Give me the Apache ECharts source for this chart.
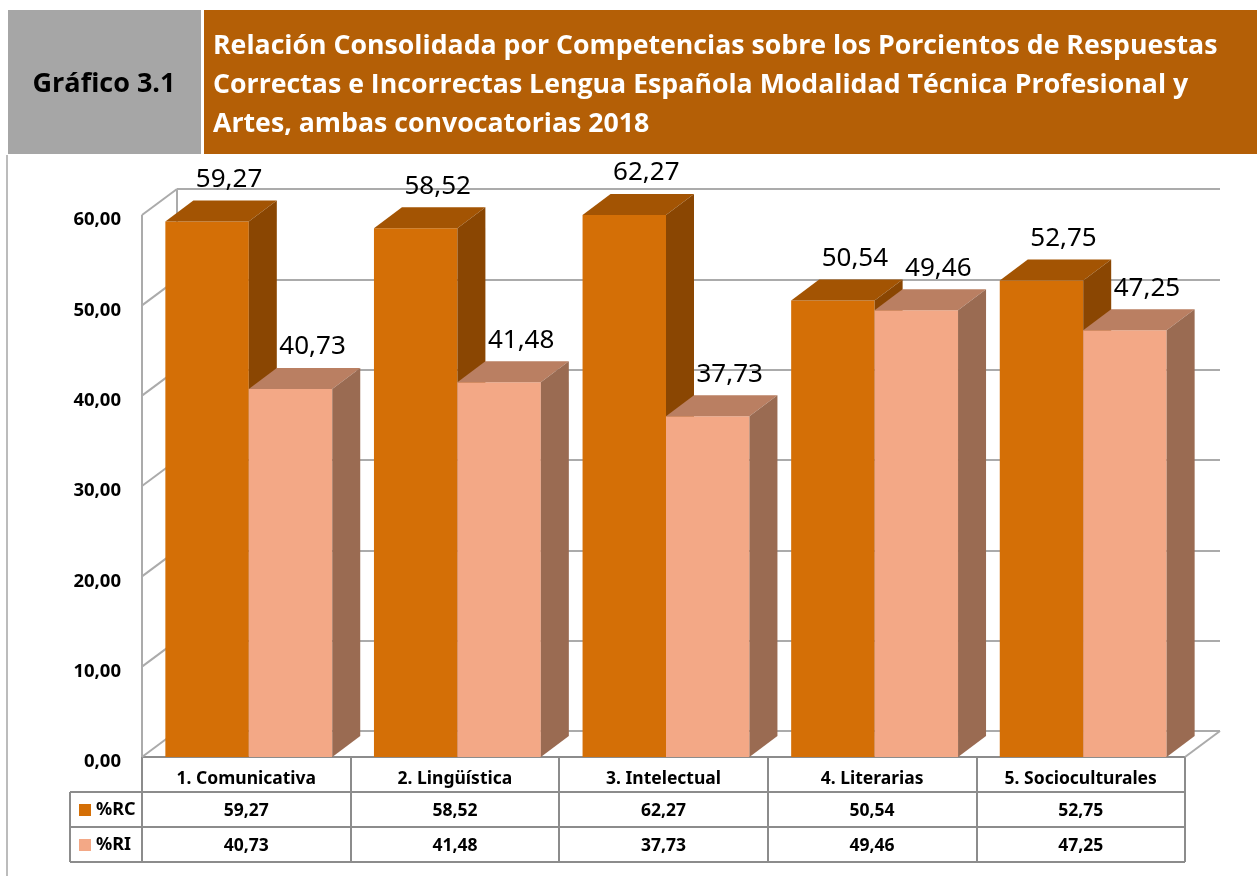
<!DOCTYPE html>
<html>
<head>
<meta charset="utf-8">
<script src="https://cdn.jsdelivr.net/npm/echarts@6/dist/echarts.min.js"></script>
<style>html,body{margin:0;padding:0;background:#fff;}#c{width:1257px;height:876px;}</style>
</head>
<body>
<div id="c"></div>
<script>
const chartNumber = 'Gráfico 3.1';
const titleLines = [
  'Relación Consolidada por Competencias sobre los Porcientos de Respuestas',
  'Correctas e Incorrectas Lengua Española Modalidad Técnica Profesional y',
  'Artes, ambas convocatorias 2018'
];
const categories = ['1. Comunicativa', '2. Lingüística', '3. Intelectual', '4. Literarias', '5. Socioculturales'];
const seriesNames = ['%RC', '%RI'];
const rcValues = [59.27, 58.52, 62.27, 50.54, 52.75];
const riValues = [40.73, 41.48, 37.73, 49.46, 47.25];
const yTicks = [0, 10, 20, 30, 40, 50, 60];
const Y_MIN = 0, Y_MAX = 60, Y_STEP = 10;

const fmt = v => v.toFixed(2).replace('.', ',');

const COLORS = {
  rc: { front: '#D46F06', top: '#A35403', side: '#8A4602' },
  ri: { front: '#F3A886', top: '#BA7F62', side: '#9A6B52' }
};
const DEPTH_BAR = [28, -21];
const DEPTH_WALL = [35, -26];
const GRID = { left: 142, right: 72, top: 215, bottom: 119 };
const GRIDLINE = '#ABABAB';
const TABLELINE = '#8C8C8C';
const FONT = '"Noto Sans", sans-serif';
const TITLE_FONT = '"Open Sans", sans-serif';

function barRenderer(slot, col) {
  return function (params, api) {
    const i = api.value(0);
    const v = api.value(1);
    const base = api.coord([i, Y_MIN]);
    const top = api.coord([i, Math.min(v, Y_MAX)]);
    const bw = api.size([1, 0])[0];
    const bandLeft = base[0] - bw / 2;
    const w = bw * 0.4;
    const x0 = bandLeft + bw * 0.112 + slot * w;
    const x1 = x0 + w;
    const yb = base[1], yt = top[1];
    const dx = DEPTH_BAR[0], dy = DEPTH_BAR[1];
    return {
      type: 'group',
      children: [
        { type: 'polygon', z2: 1 + slot, shape: { points: [[x0, yt], [x1, yt], [x1, yb], [x0, yb]] }, style: { fill: col.front } },
        { type: 'polygon', z2: 1 + slot, shape: { points: [[x0, yt], [x1, yt], [x1 + dx, yt + dy], [x0 + dx, yt + dy]] }, style: { fill: col.top } },
        { type: 'polygon', z2: 1 + slot, shape: { points: [[x1, yt], [x1 + dx, yt + dy], [x1 + dx, yb + dy], [x1, yb]] }, style: { fill: col.side } },
        { type: 'text', z2: 20, style: { text: fmt(v), x: (x0 + x1) / 2 + dx / 2 + 8, y: yt + dy - 21, align: 'center', verticalAlign: 'middle', fontSize: 26, fontFamily: FONT, fill: '#000' } }
      ]
    };
  };
}

function wallRenderer(params, api) {
  const t = api.value(1);
  const p = api.coord([0, t]);
  const cs = params.coordSys;
  const x = cs.x;
  const [dx, dy] = DEPTH_WALL;
  const ls = { stroke: GRIDLINE, lineWidth: 2 };
  const children = [
    { type: 'line', shape: { x1: x, y1: p[1], x2: x + dx, y2: p[1] + dy }, style: ls }
  ];
  if (t === Y_MIN) {
    const xr = cs.x + cs.width;
    children.push({ type: 'line', shape: { x1: xr, y1: p[1], x2: xr + dx, y2: p[1] + dy }, style: ls });
  }
  if (t === Y_MAX) {
    const y0 = api.coord([0, Y_MIN])[1];
    children.push({ type: 'line', shape: { x1: x, y1: p[1], x2: x, y2: y0 }, style: ls });
    children.push({ type: 'line', shape: { x1: x + dx, y1: p[1] + dy, x2: x + dx, y2: y0 + dy }, style: ls });
  }
  return { type: 'group', children };
}

const chart = echarts.init(document.getElementById('c'), null, { renderer: 'canvas' });

const tableRows = [792, 827, 862];
const graphics = [
  { type: 'rect', shape: { x: 8, y: 10, width: 193, height: 144 }, style: { fill: '#A6A6A6' } },
  { type: 'rect', shape: { x: 204, y: 10, width: 1053, height: 144 }, style: { fill: '#B45F06' } },
  { type: 'text', style: { text: chartNumber, x: 104, y: 84, align: 'center', verticalAlign: 'middle', fontSize: 27, fontWeight: 'bold', fontFamily: TITLE_FONT, fill: '#000' } },
  { type: 'text', style: { text: titleLines.join('\n'), x: 213, y: 85, align: 'left', verticalAlign: 'middle', lineHeight: 39, fontSize: 26.7, fontWeight: 'bold', fontFamily: TITLE_FONT, fill: '#fff' } },
  { type: 'line', shape: { x1: 7, y1: 155, x2: 7, y2: 876 }, style: { stroke: '#A6A6A6', lineWidth: 1.5 } },
  { type: 'line', shape: { x1: 70, y1: 792, x2: 70, y2: 862 }, style: { stroke: TABLELINE, lineWidth: 2 } }
];
tableRows.forEach(y => graphics.push({ type: 'line', shape: { x1: 70, y1: y, x2: 1185, y2: y }, style: { stroke: TABLELINE, lineWidth: 2 } }));

const option = {
  animation: false,
  backgroundColor: '#fff',
  textStyle: { fontFamily: FONT },
  grid: [
    { left: GRID.left, right: GRID.right, top: GRID.top, bottom: GRID.bottom },
    { left: GRID.left + DEPTH_WALL[0], right: GRID.right - DEPTH_WALL[0], top: GRID.top + DEPTH_WALL[1], bottom: GRID.bottom - DEPTH_WALL[1] }
  ],
  legend: {
    orient: 'vertical', left: 79, top: 800, padding: 0, itemGap: 15,
    itemWidth: 12, itemHeight: 12, icon: 'rect',
    textStyle: { fontSize: 18, fontWeight: 'bold', color: '#000', fontFamily: FONT, lineHeight: 20 },
    data: [
      { name: seriesNames[0], itemStyle: { color: COLORS.rc.front } },
      { name: seriesNames[1], itemStyle: { color: COLORS.ri.front } }
    ],
    selectedMode: false
  },
  xAxis: [
    {
      type: 'category', gridIndex: 0, data: categories,
      axisLine: { show: true, lineStyle: { color: TABLELINE, width: 2 } },
      axisTick: { show: true, length: 105, interval: 0, lineStyle: { color: TABLELINE, width: 2 } },
      axisLabel: {
        interval: 0, margin: 7,
        formatter: (val, idx) => `{h|${val}}\n{v|${fmt(rcValues[idx])}}\n{v|${fmt(riValues[idx])}}`,
        rich: {
          h: { fontSize: 17.5, fontWeight: 'bold', color: '#000', lineHeight: 30, fontFamily: FONT },
          v: { fontSize: 17.5, fontWeight: 'bold', color: '#000', lineHeight: 35, fontFamily: FONT }
        }
      }
    },
    { type: 'category', gridIndex: 1, data: categories, show: false }
  ],
  yAxis: [
    {
      type: 'value', gridIndex: 0, min: Y_MIN, max: Y_MAX, interval: Y_STEP,
      axisLine: { show: false }, axisTick: { show: false }, splitLine: { show: false },
      axisLabel: { formatter: v => fmt(v), fontSize: 18.5, fontWeight: 'bold', color: '#000', margin: 21, verticalAlign: 'top', lineHeight: 10, fontFamily: FONT }
    },
    {
      type: 'value', gridIndex: 1, min: Y_MIN, max: Y_MAX, interval: Y_STEP,
      axisLine: { show: false }, axisTick: { show: false }, axisLabel: { show: false },
      splitLine: { show: true, lineStyle: { color: GRIDLINE, width: 2 } }
    }
  ],
  series: [
    { type: 'custom', name: 'walls', xAxisIndex: 0, yAxisIndex: 0, renderItem: wallRenderer, data: yTicks.map(t => [0, t]), silent: true, z: 1 },
    { type: 'custom', name: seriesNames[0], xAxisIndex: 0, yAxisIndex: 0, itemStyle: { color: COLORS.rc.front }, renderItem: barRenderer(0, COLORS.rc), data: rcValues.map((v, i) => [i, v]), z: 2 },
    { type: 'custom', name: seriesNames[1], xAxisIndex: 0, yAxisIndex: 0, itemStyle: { color: COLORS.ri.front }, renderItem: barRenderer(1, COLORS.ri), data: riValues.map((v, i) => [i, v]), z: 2 },
    { type: 'custom', name: 'back', xAxisIndex: 1, yAxisIndex: 1, renderItem: () => ({ type: 'group', children: [] }), data: [] }
  ],
  graphic: graphics
};
chart.setOption(option);
</script>
</body>
</html>
